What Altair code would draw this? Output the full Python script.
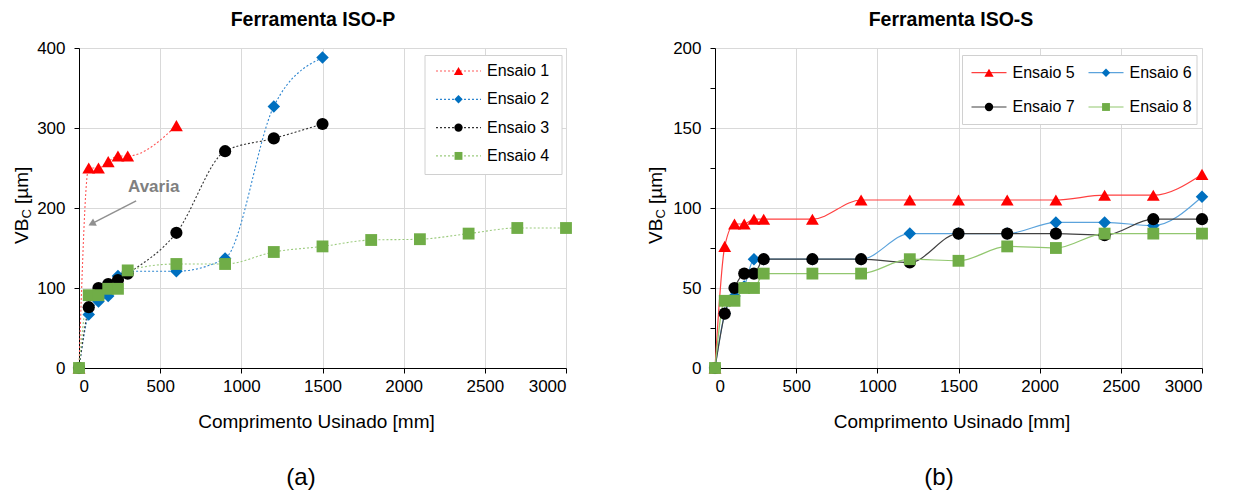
import altair as alt
import pandas as pd

FONT = "Liberation Sans"

# ---------------- data ----------------
x_len = [0, 60, 120, 180, 240, 300, 600, 900, 1200, 1500, 1800, 2100, 2400, 2700, 3000]

ensaio1 = [0, 250, 250, 258, 265, 265, 303]
ensaio2 = [0, 67, 83, 90, 115, 121, 121, 137, 327, 388]
ensaio3 = [0, 76, 100, 105, 110, 118, 169, 271, 287, 305]
ensaio4 = [0, 91, 91, 99, 99, 122, 130, 130, 145, 152, 160, 161, 168, 175, 175]

ensaio5 = [0, 76, 90, 90, 93, 93, 93, 105, 105, 105, 105, 105, 108, 108, 121]
ensaio6 = [0, 34, 45, 51, 68, 68, 68, 68, 84, 84, 84, 91, 91, 89, 107]
ensaio7 = [0, 34, 50, 59, 59, 68, 68, 68, 66, 84, 84, 84, 83, 93, 93]
ensaio8 = [0, 42, 42, 50, 50, 59, 59, 59, 68, 67, 76, 75, 84, 84, 84]

names_p = ["Ensaio 1", "Ensaio 2", "Ensaio 3", "Ensaio 4"]
names_s = ["Ensaio 5", "Ensaio 6", "Ensaio 7", "Ensaio 8"]

marker_colors = ["#FF0000", "#0070C0", "#000000", "#70AD47"]
line_colors_p = ["#FF5A5A", "#2E86D0", "#333333", "#9CCB7E"]
line_colors_s = ["#FF4040", "#5BA3DC", "#404040", "#92C76F"]
shapes = ["triangle-up", "diamond", "circle", "square"]
sizes = [165, 140, 90, 100]

ann_x = [352, 85]
ann_y = [209, 181]
ann_text = ["Avaria"]
ann_text_pos = [460, 226]


def long_df(names, series):
    rows = []
    for n, ys in zip(names, series):
        for xv, yv in zip(x_len, ys):
            rows.append({"series": n, "x": xv, "y": yv})
    return pd.DataFrame(rows)


df_p = long_df(names_p, [ensaio1, ensaio2, ensaio3, ensaio4])
df_s = long_df(names_s, [ensaio5, ensaio6, ensaio7, ensaio8])

W, H = 487, 320


def text_layer(txt, x, y, size, bold=False, color="#000000", angle=0,
               align="center", baseline="alphabetic"):
    kw = dict(font=FONT, fontSize=size, color=color, align=align, baseline=baseline)
    if bold:
        kw["fontWeight"] = "bold"
    if angle:
        kw["angle"] = angle
    return alt.Chart(pd.DataFrame({"t": [txt]})).mark_text(**kw).encode(
        text="t:N", x=alt.value(x), y=alt.value(y)
    )


def panel(df, names, line_colors, ymax, ystep_minor, ystep_major, dashed, title,
          xtitle_cx, title_cx, sub_label, ytitle_x, legend_layers, extra=None):
    xaxis = alt.Axis(values=list(range(0, 3001, 500)), grid=True, gridColor="#D9D9D9",
                     domainColor="#000000", tickColor="#000000", tickSize=5,
                     labelFont=FONT, labelFontSize=17, labelColor="#000000",
                     labelExpr="'' + datum.value",
                     labelPadding=5, title=None)
    yaxis = alt.Axis(values=list(range(0, ymax + 1, ystep_minor)), grid=True,
                     gridColor="#D9D9D9",
                     gridOpacity={"condition": {"test": f"datum.value % {ystep_major} === 0", "value": 1}, "value": 0},
                     labelExpr=f"datum.value % {ystep_major} === 0 ? '' + datum.value : ''",
                     domainColor="#000000", tickColor="#000000", tickSize=5,
                     labelFont=FONT, labelFontSize=17, labelColor="#000000",
                     labelPadding=9, title=None)
    xs = alt.X("x:Q", scale=alt.Scale(domain=[0, 3000], nice=False), axis=xaxis)
    ys = alt.Y("y:Q", scale=alt.Scale(domain=[0, ymax], nice=False), axis=yaxis)

    line_kw = dict(interpolate="monotone", strokeWidth=1.2 if not dashed else 1.1)
    if dashed:
        line_kw["strokeDash"] = [2, 2]
    lines = alt.Chart(df).mark_line(**line_kw).encode(
        x=xs, y=ys,
        stroke=alt.Stroke("series:N", scale=alt.Scale(domain=names, range=line_colors), legend=None),
    )
    points = alt.Chart(df).mark_point(filled=True, opacity=1).encode(
        x=xs, y=ys,
        color=alt.Color("series:N", scale=alt.Scale(domain=names, range=marker_colors), legend=None),
        shape=alt.Shape("series:N", scale=alt.Scale(domain=names, range=shapes), legend=None),
        size=alt.Size("series:N", scale=alt.Scale(domain=names, range=sizes), legend=None),
    )
    layers = [lines, points]
    if extra:
        layers += extra
    # titles
    layers.append(text_layer(title, title_cx, -22, 19.5, bold=True))
    layers.append(text_layer("Comprimento Usinado [mm]", xtitle_cx, 380, 19))
    layers.append(text_layer(sub_label, title_cx - 12, 437, 24))
    # y-title with subscript
    layers.append(text_layer("VB", ytitle_x, 196, 19, angle=270, align="left"))
    layers.append(text_layer("C", ytitle_x + 3, 170.5, 13, angle=270, align="left"))
    layers.append(text_layer("[µm]", ytitle_x, 156, 19, angle=270, align="left"))
    layers += legend_layers
    return alt.layer(*layers).properties(width=W, height=H)


def legend_entry(name, color, line_color, shape, msize, lx0, lx1, ly, dashed):
    rule_kw = dict(color=line_color, strokeWidth=1.2)
    if dashed:
        rule_kw["strokeDash"] = [2, 2]
    r = alt.Chart(pd.DataFrame({"n": [name]})).mark_rule(**rule_kw).encode(
        x=alt.value(lx0), x2=alt.value(lx1), y=alt.value(ly))
    p = alt.Chart(pd.DataFrame({"n": [name]})).mark_point(
        filled=True, shape=shape, size=msize, color=color, opacity=1).encode(
        x=alt.value((lx0 + lx1) / 2), y=alt.value(ly))
    t = text_layer(name, lx1 + 6, ly, 16, align="left", baseline="middle")
    return [r, p, t]


def legend_box(x0, x1, y0, y1):
    return alt.Chart(pd.DataFrame({"b": [0]})).mark_rect(
        fill="white", stroke="#D0D0D0", strokeWidth=1).encode(
        x=alt.value(x0), x2=alt.value(x1), y=alt.value(y0), y2=alt.value(y1))


leg_sizes = [85, 70, 70, 62]

# left legend
leg_p = [legend_box(346, 483, 7.5, 126.5)]
for i, n in enumerate(names_p):
    leg_p += legend_entry(n, marker_colors[i], line_colors_p[i], shapes[i], leg_sizes[i],
                          357, 402, 23 + 28.3 * i, True)

# right legend
leg_s = [legend_box(247.5, 482, 7.5, 76.5)]
for i, n in enumerate(names_s):
    col, row = i % 2, i // 2
    x0 = 256.5 + 117 * col
    leg_s += legend_entry(n, marker_colors[i], line_colors_s[i], shapes[i], leg_sizes[i],
                          x0, x0 + 35, 24.7 + 34.3 * row, False)

# annotation (left panel)
ann_df = pd.DataFrame({"x": ann_x, "y": ann_y})
sx = alt.Scale(domain=[0, 3000], nice=False)
sy = alt.Scale(domain=[0, 400], nice=False)
ann_line = alt.Chart(ann_df).mark_line(color="#909090", strokeWidth=1.5).encode(
    x=alt.X("x:Q", scale=sx), y=alt.Y("y:Q", scale=sy))
ann_head = alt.Chart(ann_df.iloc[[1]]).mark_point(
    shape="triangle", angle=243, filled=True, size=70, color="#909090", opacity=1).encode(
    x=alt.X("x:Q", scale=sx), y=alt.Y("y:Q", scale=sy))
ann_lab = alt.Chart(pd.DataFrame({"t": ann_text, "x": [ann_text_pos[0]], "y": [ann_text_pos[1]]})).mark_text(
    font=FONT, fontSize=17, fontWeight="bold", color="#808080", baseline="middle").encode(
    x=alt.X("x:Q", scale=sx), y=alt.Y("y:Q", scale=sy), text="t:N")

left = panel(df_p, names_p, line_colors_p, 400, 50, 100, True, "Ferramenta ISO-P",
             237.5, 234, "(a)", -51.3, leg_p, extra=[ann_line, ann_head, ann_lab])
right = panel(df_s, names_s, line_colors_s, 200, 25, 50, False, "Ferramenta ISO-S",
              237, 236, "(b)", -52.7, leg_s)

chart = alt.hconcat(left, right, spacing=73).resolve_scale(
    x="independent", y="independent", color="independent", shape="independent",
    size="independent", stroke="independent"
).properties(padding={"left": 12, "top": 9, "right": 0, "bottom": 0}).configure_view(
    stroke=None
).configure(background="white")

chart.save("out.html", embed_options={"renderer": "svg", "actions": False})
